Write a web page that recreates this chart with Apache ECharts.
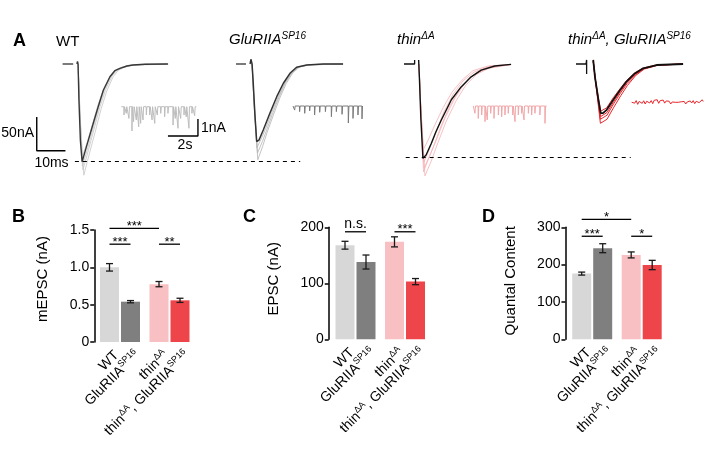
<!DOCTYPE html>
<html><head><meta charset="utf-8">
<script src="https://cdn.jsdelivr.net/npm/echarts@6/dist/echarts.min.js"></script>
<style>html,body{margin:0;padding:0;background:#fff}#c{width:706px;height:457px}</style>
</head><body><div id="c"></div>
<script>
// ================= DATA =================
// Bar panels (B, C, D): order = WT, GluRIIA, thin, thin+GluRIIA
const groups = ['control', 'thin'];
const labelNames = [
  '{n|WT}',
  '{n|GluRIIA}{s|SP16}',
  '{n|thin}{s|ΔA}',
  '{n|thin}{s|ΔA}{n|, GluRIIA}{s|SP16}'
];
const mepscMean = [1.00, 0.54, 0.775, 0.558];
const mepscSem  = [0.05, 0.015, 0.035, 0.028];
const epscMean  = [168, 138, 174, 103];
const epscSem   = [7, 12.5, 9, 5.5];
const qcMean    = [176, 244, 226, 199];
const qcSem     = [4, 12, 8, 12.5];
const mepscTickLabels = ['0', '0.5', '1.0', '1.5'];
const epscTickLabels  = ['0', '100', '200'];
const qcTickLabels    = ['0', '100', '200', '300'];
// significance: [barA, barB, y value, text]
const sigB = [[0, 2, 1.523, '***'], [0, 1, 1.31, '***'], [2, 3, 1.31, '**']];
const sigC = [[0, 1, 192, 'n.s.'], [2, 3, 192, '***']];
const sigD = [[0, 2, 321, '*'], [0, 1, 276, '***'], [2, 3, 276, '*']];

// Panel A: evoked EPSC traces (time ms, current nA)
const wtBaseline = [[0.2, 0], [3.9, 0]];
const wtMean = [[5.2,0],[5.4,3.7],[5.6,0],[5.9,-53],[6.4,-113],[7.0,-145],[8.7,-120],[10.9,-88],[12.5,-65],[14.4,-39],[16.7,-19],[18.4,-10],[20.2,-6.4],[22.6,-3],[24.7,-1.5],[28.9,-0.4],[36.9,0]];
const wtSweeps = [
  [[5.6,0],[6.3,-80],[7.3,-157],[9.2,-128],[11.4,-93],[13.2,-64],[15.2,-38],[17.4,-18],[19.2,-9],[21.2,-5],[24,-2],[29,-0.5],[36.9,0]],
  [[5.6,0],[6.4,-85],[7.6,-165],[9.6,-132],[11.8,-97],[13.6,-67],[15.6,-40],[17.8,-19],[19.6,-9.5],[21.6,-5],[24.5,-2],[29.5,-0.5],[37,0]],
  [[5.6,0],[6.3,-80],[7.1,-151],[9.0,-124],[11.2,-90],[12.9,-63],[14.9,-37],[17.1,-18],[18.9,-9.5],[20.9,-5.5],[23.5,-2.2],[28.5,-0.5],[37,0]],
  [[5.6,0],[6.2,-75],[7.0,-138],[8.8,-116],[10.9,-85],[12.6,-60],[14.6,-36],[16.9,-17],[18.7,-9],[20.6,-5],[23.5,-2],[37,0]]
];
const gluBaseline = [[0, 0], [3.5, 0]];
const gluMean = [[4.9,0],[5.2,7],[5.6,0],[6.0,-28],[6.6,-76],[7.2,-115],[8.0,-113],[9.5,-98],[11.8,-73],[14.2,-48.5],[16.5,-28.6],[18.8,-13.8],[21.1,-4.9],[24.6,-1.5],[30.4,0],[37.3,0]];
const gluSweeps = [
  [[5.6,0],[6.3,-60],[7.6,-142],[9.3,-122],[10.8,-102],[13.0,-76],[15.3,-50],[17.5,-29],[19.8,-13],[22.1,-4.5],[25.5,-1.3],[31,0],[37.3,0]],
  [[5.6,0],[6.3,-55],[7.5,-132],[9.2,-115],[10.6,-99],[12.7,-74],[15.0,-49],[17.2,-28],[19.5,-13],[21.8,-4.5],[25.2,-1.3],[37.3,0]],
  [[5.6,0],[6.2,-50],[7.3,-124],[8.9,-110],[10.3,-96],[12.4,-72],[14.8,-48],[17.0,-28],[19.3,-13],[21.6,-4.7],[25,-1.4],[37.3,0]]
];
const thinBaseline = [[0, 0], [3.7, 0], [3.7, 6]];
const thinMean = [[5.1,6],[5.4,-24],[5.9,-83],[6.6,-140],[7.7,-135],[9.5,-118],[11.1,-101],[13.0,-83],[16.5,-53],[19.9,-34],[23.4,-19],[26.9,-9],[31.6,-3],[37.3,-0.5]];
const thinSweeps = [
  [[5.2,0],[5.8,-60],[7.0,-154],[9.1,-135],[11.5,-110],[14.3,-80],[17.8,-50],[21.3,-28],[25.1,-13],[30,-4.5],[37.3,-0.7]],
  [[5.2,0],[5.8,-60],[7.3,-166],[9.4,-145],[11.8,-117],[14.6,-86],[18.1,-55],[21.6,-31],[25.4,-15],[30.3,-5],[37.3,-0.7]],
  [[5.2,0],[5.8,-60],[6.6,-128],[8.4,-113],[10.8,-90],[13.6,-65],[16.7,-42],[20.2,-24],[24,-10],[29.3,-3],[37.3,-0.5]],
  [[5.2,0],[5.8,-60],[7.0,-145],[8.7,-128],[11.1,-101],[13.9,-71],[17.1,-45],[20.6,-25],[24.4,-12],[29.6,-3.7],[37.3,-0.7]],
  [[5.2,0],[5.8,-60],[6.8,-160],[8.4,-142],[10.5,-120],[12.9,-92],[16,-62],[19.5,-37],[23.3,-19],[28.2,-7.4],[37.3,-0.7]]
];
const dblBaseline = [[0, 0], [3.5, 0], [3.7, 0], [3.7, 6], [3.7, -15]];
const dblMean = [[6.0,6],[6.6,-19],[7.8,-53],[8.6,-73],[9.4,-73],[10.7,-68],[13.0,-53],[15.3,-39],[17.6,-26],[20.5,-14],[23.4,-6.4],[28.1,-1.5],[37.3,0]];
const dblSweeps = [
  [[6.0,4],[6.8,-25],[8.5,-88],[10.8,-82],[13.2,-64],[15.6,-47],[17.9,-32],[20.8,-17],[23.8,-7.5],[28.4,-2],[37.3,0]],
  [[6.0,4],[6.8,-25],[8.5,-82],[10.8,-76],[13.1,-59],[15.5,-43],[17.8,-29],[20.7,-16],[23.6,-7],[28.3,-1.8],[37.3,0]],
  [[6.0,4],[6.8,-25],[8.6,-78],[10.8,-72],[13.1,-56],[15.4,-41],[17.7,-27.5],[20.6,-15],[23.5,-6.8],[28.2,-1.6],[37.3,0]],
  [[6.0,4],[6.8,-25],[8.6,-70],[10.7,-65],[13.0,-50],[15.3,-37],[17.6,-24.5],[20.5,-13],[23.4,-6],[28,-1.4],[37.3,0]]
];
// Panel A: spontaneous mEPSC events [time s, amplitude nA]
const wtMiniSpikes = [[0.18,0.49],[0.33,0.39],[0.51,0.69],[0.71,1.43],[0.82,0.88],[1.0,0.78],[1.16,1.18],[1.29,0.98],[1.45,0.78],[1.67,0.49],[1.89,0.49],[2.05,0.78],[2.23,0.98],[2.4,0.49],[2.63,0.39],[2.89,0.59],[3.11,0.39],[3.45,1.08],[3.6,0.69],[3.78,1.27],[3.96,0.69],[4.18,0.49],[4.33,0.59],[4.51,1.27],[4.71,0.39],[4.89,0.53]];
const wtMiniDur = 5.0;
const gluMiniSpikes = [[0.11,0.24],[0.44,0.33],[0.78,0.43],[1.11,0.29],[1.44,0.53],[1.78,0.37],[2.16,0.33],[2.56,0.63],[2.89,0.33],[3.27,0.49],[3.69,1.0],[4.0,0.73],[4.33,0.53],[4.6,0.76]];
const gluMiniDur = 4.67;
const thinMiniSpikes = [[0.11,0.43],[0.33,0.73],[0.56,0.53],[0.78,0.92],[0.93,0.82],[1.16,0.43],[1.38,0.73],[1.67,0.53],[1.89,0.63],[2.11,0.53],[2.33,0.43],[2.63,0.53],[2.78,0.92],[3.0,0.53],[3.22,0.43],[3.38,0.82],[3.67,0.43],[3.89,0.53],[4.11,0.43],[4.44,0.53],[4.78,1.02]];
const thinMiniDur = 4.89;
const dblMiniTrace = [[0,0],[0.1,0.08],[0.2,-0.05],[0.3,0.1],[0.4,-0.12],[0.5,0.05],[0.6,0.12],[0.7,-0.06],[0.8,0.09],[0.9,-0.1],[1.0,0.06],[1.1,0.14],[1.2,-0.04],[1.3,0.1],[1.4,-0.08],[1.5,0.12],[1.6,0.02],[1.7,0.15],[1.8,-0.06],[1.9,0.1],[2.0,0.04],[2.1,0.13],[2.2,-0.05],[2.3,0.08],[2.4,0.0],[2.5,0.06],[2.6,-0.1],[2.7,0.02],[2.8,0.0],[2.9,0.0],[3.0,-0.02],[3.1,0.0],[3.2,-0.05],[3.3,0.03],[3.4,-0.08],[3.5,0.05],[3.6,-0.1],[3.7,0.02],[3.8,-0.06],[3.9,0.08],[4.0,-0.04],[4.1,0.1],[4.2,-0.08],[4.3,0.06],[4.4,0.12],[4.5,-0.02],[4.6,0.08],[4.7,0.15],[4.77,0.05]];
// scale bars
const epscScale = {nA: 50, ms: 10};
const miniScale = {nA: 1, s: 2};

// ================= LAYOUT / STYLE =================
const FONT = '"Liberation Sans", Arial, sans-serif';
const RED = '#e8202a';
const barColors = ['#d7d7d7', '#7f7f7f', '#f8c0c2', '#ee454b'];
const PXMS = 2.87, PXNA = 0.674, EPSC_YMAX = 20, EPSC_YMIN = -180, EPSC_BASE = 64;
const PXS = 15, PXNAM = 17, MINI_YMAX = 0.5, MINI_YMIN = -2.0;
const BAR_W = 19, BAR_STEP = 21, CAP = 3.5;

const grids = [], xAxes = [], yAxes = [], series = [];
function hiddenAxes(gi, xmin, xmax, ymin, ymax) {
  xAxes.push({type: 'value', gridIndex: gi, min: xmin, max: xmax, show: false});
  yAxes.push({type: 'value', gridIndex: gi, min: ymin, max: ymax, show: false});
}
function epscGrid(startPx, xMin, xMax) {
  const gi = grids.length;
  grids.push({left: startPx + xMin * PXMS, top: EPSC_BASE - EPSC_YMAX * PXNA,
    width: (xMax - xMin) * PXMS, height: (EPSC_YMAX - EPSC_YMIN) * PXNA, outerBoundsMode: 'none'});
  hiddenAxes(gi, xMin, xMax, EPSC_YMIN, EPSC_YMAX);
  return gi;
}
function miniGrid(startPx, basePx, xMax) {
  const gi = grids.length;
  grids.push({left: startPx, top: basePx - MINI_YMAX * PXNAM, width: xMax * PXS,
    height: (MINI_YMAX - MINI_YMIN) * PXNAM, outerBoundsMode: 'none'});
  hiddenAxes(gi, 0, xMax, MINI_YMIN, MINI_YMAX);
  return gi;
}
function line(gi, data, color, width, z, extra) {
  series.push(Object.assign({type: 'line', xAxisIndex: gi, yAxisIndex: gi, data, showSymbol: false,
    symbol: 'none', silent: true, animation: false, z: z || 2, clip: false,
    lineStyle: {color, width}}, extra || {}));
}
function spikeTrace(spikes, dur) {
  const pts = [[0, 0]];
  spikes.forEach(([t, a]) => { pts.push([t - 0.012, 0], [t, -a], [t + 0.035, 0]); });
  pts.push([dur, 0]);
  return pts;
}
function peak(tr) { return Math.min.apply(null, tr.map(p => p[1])); }
function dashedRef(y, x0, x1) {
  return {symbol: 'none', silent: true, animation: false, label: {show: false},
    lineStyle: {color: '#000', width: 1.2, type: [4, 4]},
    data: [[{coord: [x0, y]}, {coord: [x1, y]}]]};
}

// --- EPSC grids ---
const gWT = epscGrid(62, -10, 83);
wtSweeps.forEach(s => line(gWT, s, '#c6c6c6', 0.8, 1));
line(gWT, wtBaseline, '#333', 1.3, 3);
line(gWT, wtMean, '#383838', 1.4, 3, {markLine: dashedRef(peak(wtMean), 4.5, 83)});
// scale bar (10 ms x 50 nA)
(function () {
  const x0 = -8.8, y0 = -78.6;
  line(gWT, [[x0, y0], [x0, y0 - epscScale.nA], [x0 + epscScale.ms, y0 - epscScale.nA]], '#000', 1.4, 3);
})();

const gGlu = epscGrid(236, -2, 40);
gluSweeps.forEach(s => line(gGlu, s, '#b4b4b4', 0.8, 1));
line(gGlu, gluBaseline, '#333', 1.3, 3);
line(gGlu, gluMean, '#333', 1.5, 3);

const gThin = epscGrid(404, -2, 80);
thinSweeps.forEach(s => line(gThin, s, '#f5b3b5', 0.8, 1));
line(gThin, thinBaseline, '#111', 1.3, 3);
line(gThin, thinMean, '#111', 1.4, 3, {markLine: dashedRef(peak(thinMean) + 1, 0.6, 79)});

const gDbl = epscGrid(576, -2, 40);
dblSweeps.forEach(s => line(gDbl, s, '#e8262d', 1, 1));
line(gDbl, dblBaseline, '#111', 1.3, 3);
line(gDbl, dblMean, '#111', 1.8, 3);

// --- mEPSC grids ---
const mWT = miniGrid(121.3, 106.7, 5.5);
line(mWT, spikeTrace(wtMiniSpikes, wtMiniDur), '#bdbdbd', 1, 2);
(function () {
  const x0 = 5.11, y0 = -0.72;
  line(mWT, [[x0, y0], [x0, y0 - miniScale.nA], [x0 - miniScale.s, y0 - miniScale.nA]], '#000', 1.4, 3);
})();
const mGlu = miniGrid(293, 106, 5.5);
line(mGlu, spikeTrace(gluMiniSpikes, gluMiniDur), '#7a7a7a', 1, 2);
const mThin = miniGrid(473.3, 106, 5.5);
line(mThin, spikeTrace(thinMiniSpikes, thinMiniDur), '#f2a7a9', 1, 2);
const mDbl = miniGrid(631.7, 102.3, 5.5);
line(mDbl, dblMiniTrace, '#e8262d', 1, 2);

// --- Bar panels ---
const labelRich = {
  n: {fontSize: 14, fontFamily: FONT, color: '#000', lineHeight: 17},
  s: {fontSize: 9, fontFamily: FONT, color: '#000', verticalAlign: 'top'}
};
function barPanel(cfg) {
  const gi = grids.length;
  grids.push({left: cfg.left, top: cfg.top, width: 2 * 49.5, height: 112, outerBoundsMode: 'none'});
  xAxes.push({type: 'category', gridIndex: gi, data: groups, axisLine: {show: false},
    axisTick: {show: false}, axisLabel: {show: false}, splitLine: {show: false}});
  yAxes.push({type: 'value', gridIndex: gi, min: 0, max: cfg.max, interval: cfg.interval, offset: cfg.offset,
    axisLine: {show: true, lineStyle: {color: '#000', width: 1.5}},
    axisTick: {show: true, length: 4, lineStyle: {color: '#000', width: 1.5}},
    axisLabel: {margin: 5, fontSize: 14, fontFamily: FONT, color: '#000',
      formatter: v => cfg.ticks[Math.round(v / cfg.interval)]},
    splitLine: {show: false},
    name: cfg.name, nameLocation: 'middle', nameGap: cfg.nameGap,
    nameTextStyle: {fontSize: 15, fontFamily: FONT, color: '#000', padding: cfg.namePad}});
  [0, 1].forEach(side => {
    series.push({type: 'bar', xAxisIndex: gi, yAxisIndex: gi, barWidth: BAR_W, barGap: '10.5%',
      animation: false, silent: true, z: 2,
      data: [0, 1].map(g => ({value: cfg.mean[g * 2 + side], itemStyle: {color: barColors[g * 2 + side]},
        label: {formatter: labelNames[g * 2 + side]}})),
      label: {show: true, position: 'bottom', distance: 4, rotate: 45, align: 'right', verticalAlign: 'middle',
        offset: [0, 10], rich: labelRich}});
    series.push({type: 'custom', xAxisIndex: gi, yAxisIndex: gi, z: 5, silent: true, animation: false,
      data: [0, 1].map(g => [g, cfg.mean[g * 2 + side], cfg.sem[g * 2 + side]]),
      renderItem(params, api) {
        const g = api.value(0), m = api.value(1), e = api.value(2);
        const x = api.coord([g, m])[0] + (side ? 1 : -1) * BAR_STEP / 2;
        const y1 = api.coord([g, m + e])[1], y2 = api.coord([g, m - e])[1];
        const st = {stroke: '#1a1a1a', lineWidth: 1.3};
        return {type: 'group', children: [
          {type: 'line', shape: {x1: x, y1: y1, x2: x, y2: y2}, style: st},
          {type: 'line', shape: {x1: x - CAP, y1: y1, x2: x + CAP, y2: y1}, style: st},
          {type: 'line', shape: {x1: x - CAP, y1: y2, x2: x + CAP, y2: y2}, style: st}]};
      }});
  });
  series.push({type: 'custom', xAxisIndex: gi, yAxisIndex: gi, z: 6, silent: true, animation: false,
    data: cfg.sig.map(s => [0, s[2]]),
    renderItem(params, api) {
      const s = cfg.sig[params.dataIndex];
      const bx = b => api.coord([Math.floor(b / 2), 0])[0] + (b % 2 ? 1 : -1) * BAR_STEP / 2;
      const xa = bx(s[0]), xb = bx(s[1]);
      const y = api.coord([0, s[2]])[1];
      const isNs = s[3] === 'n.s.';
      return {type: 'group', children: [
        {type: 'line', shape: {x1: xa, y1: y, x2: xb, y2: y}, style: {stroke: '#000', lineWidth: 1.3}},
        {type: 'text', style: {text: s[3], x: (xa + xb) / 2, y: isNs ? y - 8 : y - 2,
          align: 'center', verticalAlign: 'middle', textAlign: 'center', textVerticalAlign: 'middle',
          font: (isNs ? '14px ' : '13px ') + FONT, fill: '#000'}}]};
    }});
}
barPanel({left: 95.25, top: 230, max: 1.5, interval: 0.5, offset: 1, ticks: mepscTickLabels,
  mean: mepscMean, sem: mepscSem, sig: sigB, name: 'mEPSC (nA)', nameGap: 44, namePad: [0, 0, 0, 14]});
barPanel({left: 330.75, top: 227.3, max: 200, interval: 100, offset: 2, ticks: epscTickLabels,
  mean: epscMean, sem: epscSem, sig: sigC, name: 'EPSC (nA)', nameGap: 47, namePad: [0, 0, 0, 9]});
barPanel({left: 567.45, top: 227.3, max: 300, interval: 100, offset: 2, ticks: qcTickLabels,
  mean: qcMean, sem: qcSem, sig: sigD, name: 'Quantal Content', nameGap: 47, namePad: [0, 0, 0, 5]});

// --- text annotations ---
function txt(x, y, text, opts) {
  return Object.assign({type: 'text', x, y, silent: true, style: Object.assign({text, fill: '#000',
    font: '14px ' + FONT, textVerticalAlign: 'middle', verticalAlign: 'middle'}, opts || {})});
}
const titleRich = (color) => ({
  n: {fontSize: 15, fontFamily: FONT, fontStyle: 'italic', color, lineHeight: 18},
  s: {fontSize: 10, fontFamily: FONT, fontStyle: 'italic', color, verticalAlign: 'top'}
});
const graphic = [
  txt(13, 41.5, 'A', {font: 'bold 18px ' + FONT}),
  txt(12, 217.5, 'B', {font: 'bold 18px ' + FONT}),
  txt(243, 217.5, 'C', {font: 'bold 18px ' + FONT}),
  txt(482, 217.5, 'D', {font: 'bold 18px ' + FONT}),
  txt(56, 41.5, 'WT', {font: '15px ' + FONT}),
  txt(229, 40, '{n|GluRIIA}{s|SP16}', {rich: titleRich('#000')}),
  txt(397, 40, '{n|thin}{s|ΔA}', {rich: titleRich(RED)}),
  txt(568, 40, '{n|thin}{s|ΔA}{n|, GluRIIA}{s|SP16}', {rich: titleRich(RED)}),
  txt(34, 133.5, '50nA', {align: 'right', textAlign: 'right'}),
  txt(51.5, 163, '10ms', {align: 'center', textAlign: 'center'}),
  txt(201, 128, '1nA'),
  txt(185, 145.5, '2s', {align: 'center', textAlign: 'center'})
];

const chart = echarts.init(document.getElementById('c'), null, {renderer: 'canvas'});
chart.setOption({backgroundColor: '#fff', animation: false, grid: grids, xAxis: xAxes, yAxis: yAxes,
  series, graphic});
</script></body></html>
